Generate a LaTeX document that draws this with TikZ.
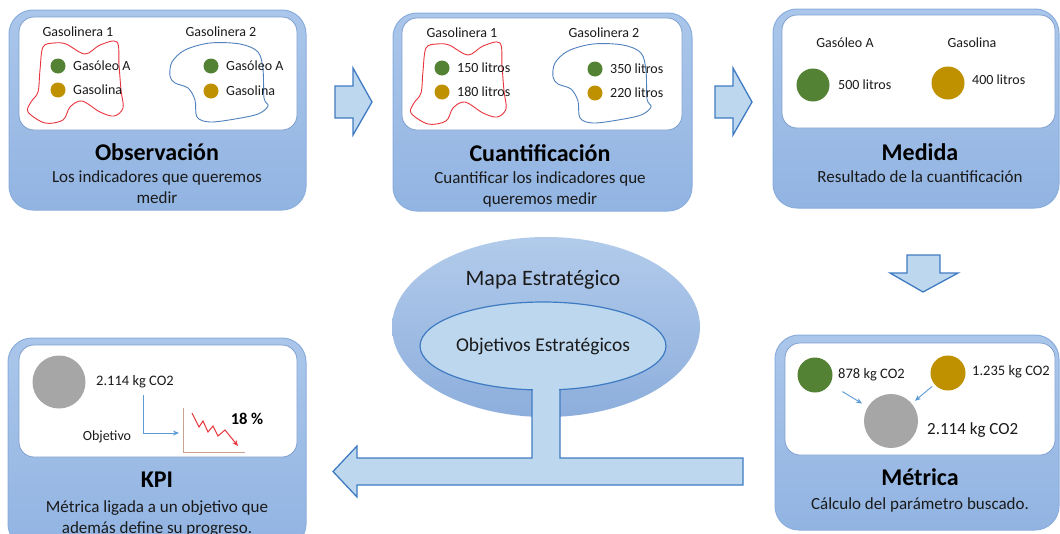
\documentclass[tikz,border=0pt]{standalone}
\usepackage{fontspec}
\setmainfont{Carlito}
\usetikzlibrary{arrows.meta,calc,shapes.geometric}

\definecolor{panelTop}{HTML}{AAC6EA}
\definecolor{panelBot}{HTML}{92B4E2}
\definecolor{panelLine}{HTML}{8AAEDD}
\definecolor{boxLine}{HTML}{7F9FCF}
\definecolor{arrowFill}{HTML}{BDD7EE}
\definecolor{arrowLine}{HTML}{3F7BC2}
\definecolor{ovalTop}{HTML}{B2CBEB}
\definecolor{ovalBot}{HTML}{8DAEDC}
\definecolor{innerLine}{HTML}{3F7BC2}
\definecolor{dotGreen}{HTML}{548235}
\definecolor{dotGold}{HTML}{BF9000}
\definecolor{dotGray}{HTML}{A6A6A6}
\definecolor{blobRed}{HTML}{E8343C}
\definecolor{blobBlue}{HTML}{4F81BD}
\definecolor{axisTan}{HTML}{C9A28F}
\definecolor{thinBlue}{HTML}{5B9BD5}
\definecolor{txt}{HTML}{1A1A1A}

\tikzset{
  panel/.style={draw=panelLine, line width=1pt, rounded corners=24pt,
    top color=panelTop, bottom color=panelBot, inner sep=0pt},
  whitebox/.style={draw=boxLine, line width=0.8pt, rounded corners=15pt,
    fill=white, inner sep=0pt},
  blockarrow/.style={fill=arrowFill, draw=arrowLine, line width=1.3pt, line join=miter},
  dot/.style={circle, inner sep=0pt, minimum size=15pt},
  small/.style={inner sep=0pt, text=txt, font=\fontsize{14}{16}\selectfont},
  mid/.style={inner sep=0pt, text=txt, font=\fontsize{14.5}{17}\selectfont},
  title/.style={inner sep=0pt, text=black, font=\fontsize{24}{28}\selectfont\bfseries},
  body/.style={inner sep=0pt, text=txt, align=center, font=\fontsize{17}{21}\selectfont},
  smallarrow/.style={draw=thinBlue, line width=0.9pt, -{Stealth[length=6pt,width=5pt]}},
  redblob/.style={draw=blobRed, line width=0.9pt},
  blueblob/.style={draw=blobBlue, line width=0.9pt},
}

\begin{document}
\begin{tikzpicture}[x=1pt,y=-1pt]
\useasboundingbox (0,0) rectangle (1060,533);
\clip (0,0) rectangle (1060,533);
\fill[white] (0,0) rectangle (1060,533);

% ---------- panels ----------
\node[panel, minimum width=297pt, minimum height=200pt] (obs) at (157.5,110) {};
\node[panel, minimum width=299pt, minimum height=198pt] (cua) at (542.5,112) {};
\node[panel, minimum width=286pt, minimum height=199pt] (med) at (916,108.5) {};
\node[panel, minimum width=298pt, minimum height=210pt] (kpi) at (157,443) {};
\node[panel, minimum width=284pt, minimum height=195pt] (met) at (917,432.5) {};

\node[whitebox, minimum width=278pt, minimum height=113pt] (obsbox) at (158,73.5) {};
\node[whitebox, minimum width=280pt, minimum height=112pt] (cuabox) at (542,74) {};
\node[whitebox, minimum width=273pt, minimum height=113pt] (medbox) at (918.5,71.5) {};
\node[whitebox, minimum width=278pt, minimum height=112pt] (kpibox) at (158,401) {};
\node[whitebox, minimum width=270pt, minimum height=112pt] (metbox) at (920,399) {};

% ---------- Observación ----------
\draw[redblob] plot[smooth cycle, tension=0.55] coordinates {
  (43,47) (54,43) (66,44) (85,54) (100,45) (117,42) (119,65) (121,90)
  (123,108) (114,116) (100,112) (82,101) (70,107) (63,120) (45,123)
  (28,112) (31,102) (38,92) (40,70)};
\draw[blueblob] plot[smooth cycle, tension=0.55] coordinates {
  (170,76) (172,62) (185,50) (210,43) (240,44) (258,52) (263,70) (264,98)
  (268,106) (258,114) (235,119) (210,122) (197,117) (195,100) (188,88) (175,83)};
\node[small] (o1) at (78,32) {Gasolinera 1};
\node[small] (o2) at (221,32) {Gasolinera 2};
\node[dot, fill=dotGreen] (o1g) at (58,66) {};
\node[dot, fill=dotGold] (o1o) at (58,90) {};
\node[small, anchor=west] (o1gt) at (73,66) {Gasóleo A};
\node[small, anchor=west] (o1ot) at (73,90) {Gasolina};
\node[dot, fill=dotGreen] (o2g) at (211,66) {};
\node[dot, fill=dotGold] (o2o) at (211,91) {};
\node[small, anchor=west] (o2gt) at (226,66) {Gasóleo A};
\node[small, anchor=west] (o2ot) at (226,91) {Gasolina};
\node[title] (obst) at (157,152) {Observación};
\node[body] (obsd) at (157,187) {Los indicadores que queremos\\medir};

% ---------- Cuantificación ----------
\begin{scope}[shift={(383,1)}]
\draw[redblob] plot[smooth cycle, tension=0.55] coordinates {
  (43,47) (54,43) (66,44) (85,54) (100,45) (117,42) (119,65) (121,90)
  (123,108) (114,116) (100,112) (82,101) (70,107) (63,120) (45,123)
  (28,112) (31,102) (38,92) (40,70)};
\draw[blueblob] plot[smooth cycle, tension=0.55] coordinates {
  (170,76) (172,62) (185,50) (210,43) (240,44) (258,52) (263,70) (264,98)
  (268,106) (258,114) (235,119) (210,122) (197,117) (195,100) (188,88) (175,83)};
\end{scope}
\node[small] (c1) at (462,33) {Gasolinera 1};
\node[small] (c2) at (604,33) {Gasolinera 2};
\node[dot, fill=dotGreen] (c1g) at (442,68) {};
\node[dot, fill=dotGold] (c1o) at (442,92) {};
\node[small, anchor=west] (c1gt) at (457,68) {150 litros};
\node[small, anchor=west] (c1ot) at (457,92) {180 litros};
\node[dot, fill=dotGreen] (c2g) at (595,69) {};
\node[dot, fill=dotGold] (c2o) at (595,93) {};
\node[small, anchor=west] (c2gt) at (610,69) {350 litros};
\node[small, anchor=west] (c2ot) at (610,93) {220 litros};
\node[title] (cuat) at (540,153) {Cuantificación};
\node[body] (cuad) at (540,189) {Cuantificar los indicadores que\\queremos medir};

% ---------- Medida ----------
\node[small] (m1) at (845,43) {Gasóleo A};
\node[small] (m2) at (972,43) {Gasolina};
\node[dot, fill=dotGreen, minimum size=33pt] (mg) at (813,85) {};
\node[dot, fill=dotGold, minimum size=33pt] (mo) at (948,83) {};
\node[small, anchor=west] (mgt) at (838,85) {500 litros};
\node[small, anchor=west] (mot) at (972,80) {400 litros};
\node[title] (medt) at (920,152) {Medida};
\node[body] (medd) at (920,177) {Resultado de la cuantificación};

% ---------- Métrica ----------
\node[dot, fill=dotGreen, minimum size=35pt] (eg) at (815,375) {};
\node[dot, fill=dotGold, minimum size=35pt] (eo) at (948,373) {};
\node[dot, fill=dotGray, minimum size=54pt] (ec) at (891,421) {};
\node[mid, anchor=west] (egt) at (838,375) {878 kg CO2};
\node[mid, anchor=west] (eot) at (972,372) {1.235 kg CO2};
\node[body, anchor=west] (ect) at (927,430) {2.114 kg CO2};
\draw[smallarrow] ($(eg)!0.36!(ec)$) -- ($(eg)!0.62!(ec)$);
\draw[smallarrow] ($(eo)!0.28!(ec)$) -- ($(eo)!0.58!(ec)$);
\node[title] (mett) at (920,477) {Métrica};
\node[body] (metd) at (920,505) {Cálculo del parámetro buscado.};

% ---------- KPI ----------
\node[dot, fill=dotGray, minimum size=53pt] (kc) at (59,382) {};
\node[mid, anchor=west] (kct) at (96,382) {2.114 kg CO2};
\node[small] (kobj) at (107,437) {Objetivo};
\coordinate (kfrom) at (143,395);
\coordinate (kto) at (179,433);
\draw[smallarrow] (kfrom) |- (kto);
\coordinate (axtop) at (183,408);
\coordinate (axorig) at (183,452);
\coordinate (axend) at (245,452);
\draw[axisTan, line width=1pt] (axtop) -- (axorig) -- (axend);
\draw[blobRed, line width=1pt, -{Stealth[length=6pt,width=5pt]}]
  (192,413) -- (199,427) -- (203,421) -- (208,432) -- (213,426) -- (218,436)
  -- (225,430) -- (238,446);
\node[inner sep=0pt, text=black, font=\fontsize{16.5}{19}\selectfont\bfseries] (kpct) at (247,419) {18 \%};
\node[title] (kpit) at (157,480) {KPI};
\node[body] (kpid) at (157,518.5) {Métrica ligada a un objetivo que\\además define su progreso.};

% ---------- block arrows between panels ----------
\draw[blockarrow] (335,86) -- (353,86) -- (353,68) -- (372,102) -- (353,135)
  -- (353,118) -- (335,118) -- cycle;
\draw[blockarrow] (715,86) -- (733,86) -- (733,68) -- (752,102) -- (733,135)
  -- (733,118) -- (715,118) -- cycle;
\draw[blockarrow] (907,255) -- (940,255) -- (940,273) -- (958,273) -- (923,292)
  -- (890,273) -- (907,273) -- cycle;

% ---------- strategic map ----------
\node[ellipse, minimum width=308pt, minimum height=180pt, inner sep=0pt,
  top color=ovalTop, bottom color=ovalBot] (mapa) at (546,327) {};
\node[inner sep=0pt, text=txt, font=\fontsize{22}{25}\selectfont] (mapat) at (543,280) {Mapa Estratégico};
\fill[arrowFill] (532,380) -- (532,458) -- (357,458) -- (357,446) -- (333,471.5)
  -- (357,497) -- (357,485) -- (743,485) -- (743,458) -- (560,458) -- (560,380) -- cycle;
\node[ellipse, minimum width=202pt, minimum height=88pt, inner sep=0pt,
  fill=arrowFill, draw=innerLine, line width=1.2pt, text=txt,
  font=\fontsize{19.5}{22}\selectfont] (objs) at (543,346) {Objetivos Estratégicos};
\fill[arrowFill] (532.7,384) rectangle (559.3,394);
\draw[draw=arrowLine, line width=1.3pt, line join=miter]
  (532,389.7) -- (532,458) -- (357,458) -- (357,446) -- (333,471.5)
  -- (357,497) -- (357,485) -- (743,485) -- (743,458) -- (560,458) -- (560,389.4);
\end{tikzpicture}
\end{document}
